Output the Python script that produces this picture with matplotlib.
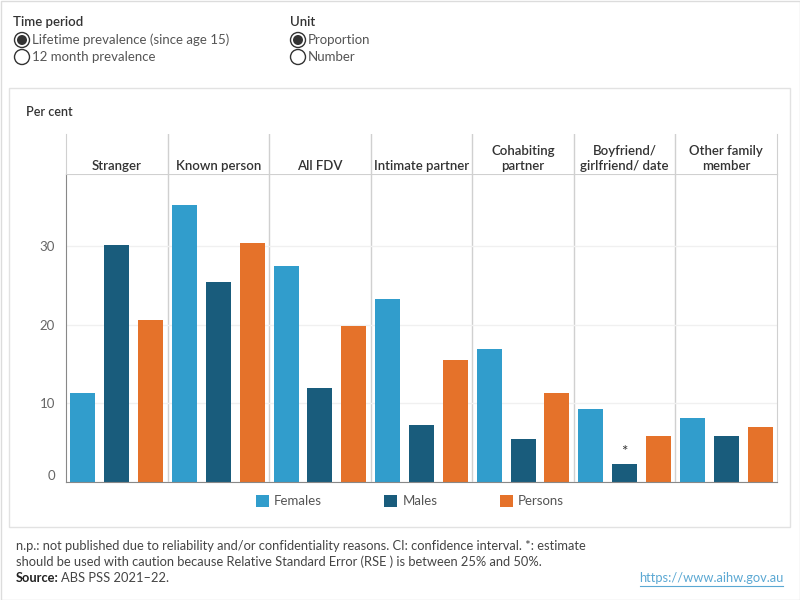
import numpy as np
import matplotlib.pyplot as plt
from matplotlib.patches import Circle, Rectangle

plt.rcParams['font.family'] = ['Lato', 'DejaVu Sans']

# data (per cent, lifetime prevalence)
categories = ['Stranger', 'Known person', 'All FDV', 'Intimate partner',
              'Cohabiting\npartner', 'Boyfriend/\ngirlfriend/ date', 'Other family\nmember']
females = [11.3, 35.3, 27.5, 23.3, 16.9, 9.3, 8.2]
males = [30.2, 25.5, 12.0, 7.2, 5.5, 2.3, 5.9]
persons = [20.6, 30.4, 19.9, 15.5, 11.3, 5.9, 7.0]
male_flags = ['', '', '', '', '', '*', '']
series = ['Females', 'Males', 'Persons']
colors = ['#319dcc', '#195c7c', '#e5722a']
yticks = [0, 10, 20, 30]

W, H = 800, 600
fig = plt.figure(figsize=(8, 6), dpi=100)

# overlay in pixel coords for the decorations
ov = fig.add_axes([0, 0, 1, 1], zorder=0)
ov.set_xlim(0, W)
ov.set_ylim(H, 0)
ov.axis('off')
ov.add_patch(Rectangle((0.5, 0.5), W - 1, H - 1, fill=False, ec='#dcdcdc', lw=1))
ov.add_patch(Rectangle((9, 88), 781, 439, fill=False, ec='#e2e2e2', lw=1))

dark = '#333333'
ov.text(13, 22, 'Time period', fontsize=9.5, color=dark, va='center', fontweight='semibold')
ov.text(290, 22, 'Unit', fontsize=9.5, color=dark, va='center', fontweight='semibold')
radios = [(22, 40, 'Lifetime prevalence (since age 15)', True),
          (22, 57, '12 month prevalence', False),
          (298, 40, 'Proportion', True),
          (298, 57, 'Number', False)]
for cx, cy, lab, sel in radios:
    ov.add_patch(Circle((cx, cy), 7.5, fc='white', ec='#333333', lw=1))
    if sel:
        ov.add_patch(Circle((cx, cy), 5, fc='#333333', ec='none'))
    ov.text(cx + 10, cy, lab, fontsize=9.5, color='#555555', va='center')

ov.text(26, 112, 'Per cent', fontsize=9, color=dark, va='center', fontweight='semibold')

foot1 = ('n.p.: not published due to reliability and/or confidentiality reasons. '
         'CI: confidence interval. *: estimate')
foot2 = 'should be used with caution because Relative Standard Error (RSE ) is between 25% and 50%.'
ov.text(16, 546, foot1, fontsize=9.3, color='#444444', va='center')
ov.text(16, 562, foot2, fontsize=9.3, color='#444444', va='center')
ov.text(16, 578, 'Source:', fontsize=9.3, color='#222222', va='center', fontweight='bold')
ov.text(61, 578, 'ABS PSS 2021\u201322.', fontsize=9.3, color='#444444', va='center')
ov.text(783, 578, 'https://www.aihw.gov.au', fontsize=9.3, color='#5ba8d3', va='center', ha='right')
ov.plot([640, 783], [586, 586], color='#5ba8d3', lw=0.8)

# main chart
n = len(categories)
ax = fig.add_axes([66 / W, 1 - 482 / H, 711 / W, 308 / H], zorder=2)
ax.set_facecolor('none')
x = np.arange(n) * 3
bars = []
for j, (vals, c, name) in enumerate(zip([females, males, persons], colors, series)):
    b = ax.bar(x + j + 0.5, vals, width=0.74, color=c, label=name, zorder=2)
    bars.append(b)
for i, f in enumerate(male_flags):
    if f:
        ax.text(x[i] + 1.5, males[i] + 0.6, f, ha='center', va='bottom', fontsize=11, color=dark)

ax.set_xlim(0, 3 * n)
ax.set_ylim(0, 39.2)
ax.set_xticks([])
ax.set_yticks(yticks)
ax.tick_params(axis='y', length=0, pad=8, labelsize=9.5, labelcolor='#666666')
ax.get_yticklabels()[0].set_va('bottom')
ax.grid(axis='y', color='#f0f0f0', lw=1, zorder=0)
for s in ['left', 'bottom']:
    ax.spines[s].set_color('#888888')
for s in ['top', 'right']:
    ax.spines[s].set_color('#d0d0d0')
for k in range(1, n):
    ax.axvline(3 * k, color='#d0d0d0', lw=1, zorder=1)

# header band with category names
hd = fig.add_axes([66 / W, 1 - 174 / H, 711 / W, 40 / H], zorder=2)
hd.set_xlim(0, 3 * n)
hd.set_ylim(0, 1)
hd.set_xticks([])
hd.set_yticks([])
for s in ['top', 'bottom']:
    hd.spines[s].set_visible(False)
hd.spines['left'].set_color('#d0d0d0')
hd.spines['right'].set_color('#d0d0d0')
for k in range(1, n):
    hd.axvline(3 * k, color='#d0d0d0', lw=1)
for i, cat in enumerate(categories):
    hd.text(x[i] + 1.5, 0.06, cat, ha='center', va='bottom', fontsize=9.5,
            color=dark, fontweight='semibold', linespacing=1.25)

fig.legend(handles=bars, labels=series, loc='center', ncol=3,
           bbox_to_anchor=(410 / W, 1 - 501 / H), frameon=False,
           handlelength=1.0, handleheight=1.0, handletextpad=0.4,
           columnspacing=4.7, fontsize=9.5, labelcolor='#555555')

fig.savefig('out.png', dpi=100)
